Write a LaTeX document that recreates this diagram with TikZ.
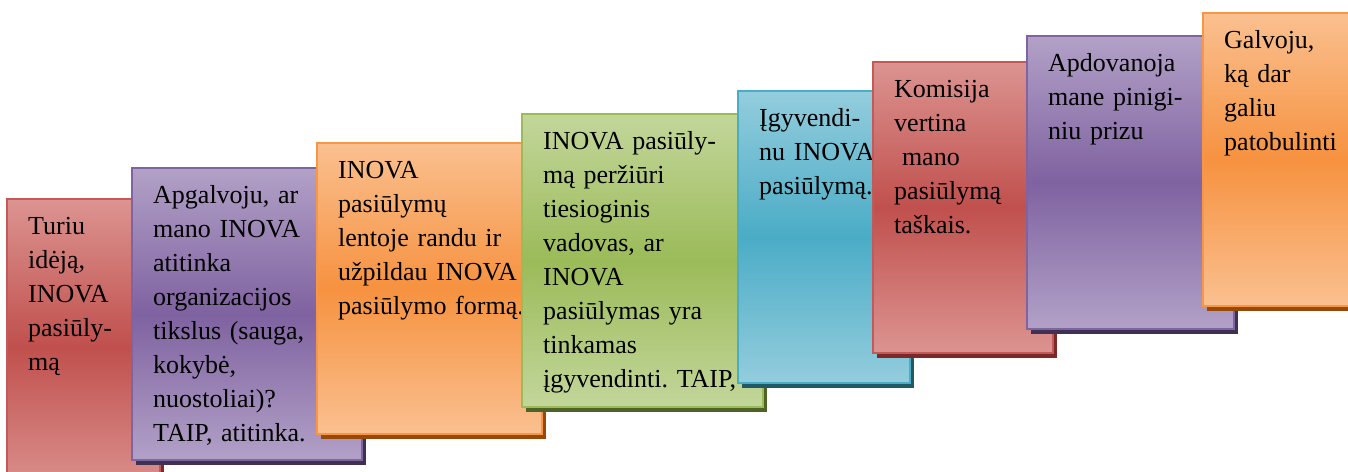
\documentclass[tikz,border=0pt]{standalone}
\usepackage{fontspec}
\setmainfont{Liberation Serif}

% card palettes: light tint, full colour, border, shadow
\definecolor{redL}{HTML}{DC9491}
\definecolor{redM}{HTML}{C0504D}
\definecolor{redB}{HTML}{C4595A}
\definecolor{redS}{HTML}{7B2A28}
\definecolor{purL}{HTML}{B2A1C7}
\definecolor{purM}{HTML}{7F62A0}
\definecolor{purB}{HTML}{8064A2}
\definecolor{purS}{HTML}{3F3151}
\definecolor{oraL}{HTML}{FAC090}
\definecolor{oraM}{HTML}{F69240}
\definecolor{oraB}{HTML}{F79646}
\definecolor{oraS}{HTML}{984807}
\definecolor{grnL}{HTML}{C3D69B}
\definecolor{grnM}{HTML}{9BBB59}
\definecolor{grnB}{HTML}{9BBB59}
\definecolor{grnS}{HTML}{4F6228}
\definecolor{bluL}{HTML}{93CDDD}
\definecolor{bluM}{HTML}{4BACC6}
\definecolor{bluB}{HTML}{4BACC6}
\definecolor{bluS}{HTML}{215968}

\tikzset{
  red face/.style={top color=redL, bottom color=redL, middle color=redM, draw=redB, line width=2pt},
  red shadow/.style={fill=redS},
  purple face/.style={top color=purL, bottom color=purL, middle color=purM, draw=purB, line width=2pt},
  purple shadow/.style={fill=purS},
  orange face/.style={top color=oraL, bottom color=oraL, middle color=oraM, draw=oraB, line width=2pt},
  orange shadow/.style={fill=oraS},
  green face/.style={top color=grnL, bottom color=grnL, middle color=grnM, draw=grnB, line width=2pt},
  green shadow/.style={fill=grnS},
  blue face/.style={top color=bluL, bottom color=bluL, middle color=bluM, draw=bluB, line width=2pt},
  blue shadow/.style={fill=bluS},
  cardtext/.style={anchor=north west, inner sep=0pt, text width=260pt, align=left,
    font=\fontsize{26}{34}\selectfont\frenchspacing, text=black},
}

% #1 node name, #2-#5 corners (left, top, right, bottom), #6 palette, #7 text
\newcommand\stepcard[7]{%
  \fill[#6 shadow] (#2+4,#3+5) rectangle (#4+4,#5+5);
  \path[#6 face] (#2,#3) rectangle (#4,#5);
  \node[cardtext] (#1) at (#2+21,#3+11) {\strut #7};
}

\begin{document}
\begin{tikzpicture}[x=1pt, y=-1pt]
\useasboundingbox (0,0) rectangle (1348,471);
\clip (0,0) rectangle (1348,471);

\stepcard{c1}{7}{199}{160}{495}{red}{Turiu\\idėją,\\INOVA\\pasiūly-\\mą}
\stepcard{c2}{132}{168}{362}{460}{purple}{Apgalvoju, ar\\mano INOVA\\atitinka\\organizacijos\\tikslus (sauga,\\kokybė,\\nuostoliai)?\\TAIP, atitinka.}
\stepcard{c3}{317}{143}{542}{434}{orange}{INOVA\\pasiūlymų\\lentoje randu ir\\užpildau INOVA\\pasiūlymo formą.}
\stepcard{c4}{522}{114}{763}{407}{green}{INOVA pasiūly-\\mą peržiūri\\tiesioginis\\vadovas, ar\\INOVA\\pasiūlymas yra\\tinkamas\\įgyvendinti. TAIP,}
\stepcard{c5}{738}{91}{910}{383}{blue}{Įgyvendi-\\nu INOVA\\pasiūlymą.}
\stepcard{c6}{873}{62}{1053}{353}{red}{Komisija\\vertina\\\hspace*{0.3em}mano\\pasiūlymą\\taškais.}
\stepcard{c7}{1027}{36}{1234}{329}{purple}{Apdovanoja\\mane pinigi-\\niu prizu}
\stepcard{c8}{1203}{13}{1352}{306}{orange}{Galvoju,\\ką dar\\galiu\\patobulinti}
\end{tikzpicture}
\end{document}
